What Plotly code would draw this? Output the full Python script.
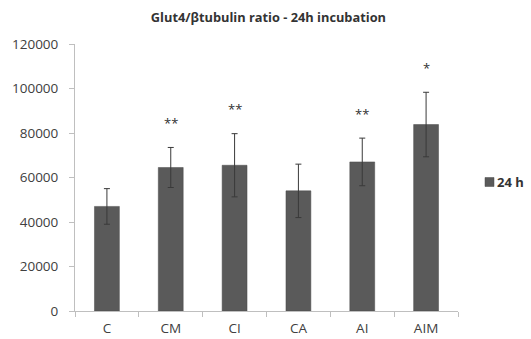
import plotly.graph_objects as go

# Glut4 / beta-tubulin ratio after 24 h incubation
categories = ["C", "CM", "CI", "CA", "AI", "AIM"]
ratio_24h = [47000, 64500, 65500, 54000, 67000, 83800]
sem_24h = [8000, 9000, 14200, 12000, 10700, 14500]
significance = ["", "**", "**", "", "**", "*"]
series_name = "24 h"

AXIS_GREY = "#bfbfbf"
TEXT_GREY = "#404040"
BAR_GREY = "#5a5a5a"
FONT = "Open Sans"

W, H = 531, 339
L, R, T, B = 75, 73, 44, 28
PW, PH = W - L - R, H - T - B


def px_x(x):
    return (x - L) / PW


def px_y(y):
    return (H - B - y) / PH


fig = go.Figure()
fig.add_trace(go.Bar(
    x=categories,
    y=ratio_24h,
    name=series_name,
    showlegend=False,
    marker=dict(color=BAR_GREY, line=dict(color="#4a4a4a", width=0.5)),
    error_y=dict(type="data", array=sem_24h, visible=True,
                 color="#3a3a3a", thickness=1, width=3),
))

# significance marks above the error bars
for cat, val, err, sig in zip(categories, ratio_24h, sem_24h, significance):
    if sig:
        fig.add_annotation(
            x=cat, y=val + err + 11000, text=sig, showarrow=False,
            font=dict(family=FONT, size=13, color="#303030"),
            yanchor="middle",
        )

# legend key: grey square with the series name to its right
fig.add_shape(type="rect", xref="paper", yref="paper",
              x0=px_x(485), x1=px_x(494), y0=px_y(186.5), y1=px_y(177.5),
              fillcolor=BAR_GREY, line=dict(color="#4a4a4a", width=0.5))
fig.add_annotation(xref="paper", yref="paper",
                   x=px_x(495), y=px_y(182),
                   xanchor="left", yanchor="middle", showarrow=False,
                   text=f"<b>{series_name}</b>",
                   font=dict(family=FONT, size=13, color="#333333"))

fig.update_layout(
    width=W, height=H,
    margin=dict(l=L, r=R, t=T, b=B),
    paper_bgcolor="white", plot_bgcolor="white",
    bargap=0.61,
    title=dict(
        text="<b>Glut4/βtubulin ratio - 24h incubation</b>",
        x=268.4 / W, xanchor="center", xref="container",
        y=1 - 17.5 / H, yanchor="middle", yref="container",
        font=dict(family=FONT, size=12.8, color="#333333"),
    ),
    showlegend=False,
    font=dict(family=FONT, color=TEXT_GREY),
)

fig.update_yaxes(
    range=[0, 120000], tickvals=[0, 20000, 40000, 60000, 80000, 100000, 120000],
    ticktext=["0", "20000", "40000", "60000", "80000", "100000", "120000"],
    showgrid=False, zeroline=False, automargin=False,
    showline=True, linecolor=AXIS_GREY, linewidth=1,
    ticks="outside", ticklen=5, tickcolor=AXIS_GREY, ticklabelstandoff=8,
    tickfont=dict(family=FONT, size=13.5, color=TEXT_GREY),
)
fig.update_xaxes(
    showgrid=False, showline=True, linecolor=AXIS_GREY, linewidth=1,
    automargin=False,
    ticks="outside", ticklen=5, tickcolor=AXIS_GREY, tickson="boundaries",
    ticklabelstandoff=5,
    tickfont=dict(family=FONT, size=13.5, color=TEXT_GREY),
)

fig.write_html("out.html")
